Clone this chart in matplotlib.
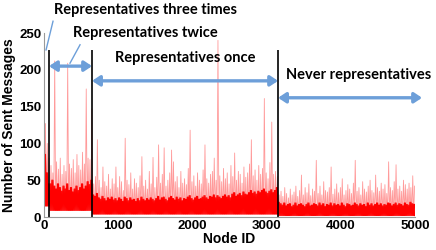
import numpy as np
import matplotlib
matplotlib.use("Agg")
import matplotlib.pyplot as plt

# node id bins of 25 nodes, 200 bins total (0..5000)
bin_size = 25

# region boundaries (node ids) where representative count changes
bounds = [67, 647, 3154]
region_floor = [15, 9, 4, 2]

# dense part of the signal (upper edge of the solid red band), per bin
core_0 = [85, 60, 45]
core_1 = [45, 50, 42, 38, 45, 40, 35, 42, 38, 45,
          36, 40, 34, 38, 42, 36, 40, 45, 38, 42,
          48, 44, 50]
core_2 = [30, 28, 32, 26, 24, 28, 25, 22, 26, 24,
          27, 23, 25, 22, 26, 24, 21, 27, 25, 22,
          26, 23, 24, 21, 25, 22, 27, 24, 22, 25,
          23, 26, 24, 22, 25, 28, 23, 26, 27, 24,
          22, 26, 28, 25, 23, 27, 24, 26, 22, 25,
          24, 27, 29, 25, 23, 26, 28, 24, 25, 27,
          29, 26, 24, 28, 27, 30, 26, 29, 27, 25,
          28, 30, 27, 29, 26, 31, 33, 28, 30, 32,
          29, 34, 31, 30, 33, 36, 32, 34, 31, 35,
          33, 36, 38, 34, 32, 35, 37, 33, 36, 40]
core_3 = [20, 18, 16, 19, 15, 17, 18, 14, 16, 19,
          15, 17, 18, 16, 14, 17, 19, 15, 16, 18,
          17, 15, 19, 16, 18, 14, 17, 16, 19, 15,
          18, 16, 17, 15, 19, 16, 14, 18, 17, 15,
          16, 19, 17, 15, 18, 16, 17, 14, 19, 16,
          18, 15, 17, 19, 16, 18, 15, 17, 16, 19,
          18, 15, 17, 19, 16, 18, 17, 15, 19, 17,
          16, 20, 18, 17]

# highest spike inside each bin
peak_0 = [127, 100, 80]
peak_1 = [70, 60, 212, 75, 65, 80, 58, 70, 62, 209,
          72, 66, 78, 60, 85, 70, 64, 88, 72, 174,
          80, 78, 147]
peak_2 = [45, 55, 105, 50, 40, 68, 48, 42, 58, 38,
          52, 45, 68, 40, 55, 48, 36, 107, 50, 44,
          60, 38, 52, 46, 40, 56, 82, 42, 50, 38,
          62, 45, 81, 40, 54, 98, 46, 58, 94, 42,
          50, 60, 91, 75, 48, 55, 40, 62, 46, 52,
          44, 66, 118, 48, 56, 42, 60, 50, 45, 64,
          98, 52, 46, 58, 62, 80, 50, 240, 56, 48,
          66, 52, 60, 45, 70, 55, 87, 50, 62, 58,
          46, 68, 54, 60, 72, 105, 56, 64, 50, 70,
          58, 66, 161, 60, 52, 74, 129, 58, 62, 55]
peak_3 = [30, 35, 28, 40, 32, 26, 38, 30, 34, 42,
          28, 36, 57, 30, 40, 33, 45, 29, 38, 35,
          77, 32, 42, 30, 48, 36, 34, 40, 68, 31,
          38, 45, 33, 40, 52, 30, 36, 44, 38, 32,
          46, 77, 35, 40, 30, 48, 38, 34, 42, 50,
          36, 33, 57, 40, 35, 46, 38, 44, 32, 75,
          40, 36, 48, 71, 38, 42, 35, 50, 44, 38,
          46, 40, 56, 42]

xticks = [0, 1000, 2000, 3000, 4000, 5000]
yticks = [0, 50, 100, 150, 200, 250]

core = np.array(core_0 + core_1 + core_2 + core_3)
peak = np.array(peak_0 + peak_1 + peak_2 + peak_3)
sizes = [len(core_0), len(core_1), len(core_2), len(core_3)]
floor = np.repeat(region_floor, sizes)
x = np.arange(len(core)) * bin_size + bin_size / 2

# zigzag each bin between its floor and its top, like a dense line plot
xz = np.column_stack([x - bin_size / 4, x + bin_size / 4]).ravel()
peak_z = np.column_stack([floor, peak]).ravel()
core_z = np.column_stack([floor, core]).ravel()
core_z2 = np.column_stack([core, floor]).ravel()

fig = plt.figure(figsize=(4.36, 2.5), dpi=100)
ax = fig.add_axes([0.101, 0.132, 0.851, 0.736])

ax.plot(xz, peak_z, color="#ff9a9a", lw=0.6)
ax.plot(xz, core_z, color="red", lw=0.9)
ax.plot(xz, core_z2, color="red", lw=0.9)

ax.vlines(bounds, 0, 227, color="black", lw=1.2, clip_on=False)

ax.set_xlim(0, 5000)
ax.set_ylim(0, 250)
ax.set_xticks(xticks)
ax.set_yticks(yticks)
tick_font = dict(family="Liberation Sans", weight="bold", size=9.5)
ax.set_xticklabels([str(t) for t in xticks], **tick_font)
ax.set_yticklabels([str(t) for t in yticks], **tick_font)
ax.tick_params(length=0, pad=2)
for s in ["top", "right"]:
    ax.spines[s].set_visible(False)
for s in ["left", "bottom"]:
    ax.spines[s].set_color("#999999")
    ax.spines[s].set_linewidth(0.8)

ax.set_xlabel("Node ID", family="Liberation Sans", weight="bold", size=10, labelpad=0)
ax.set_ylabel("Number of Sent Messages", family="Liberation Sans", weight="bold", size=10, labelpad=2)

# double arrows marking the regions
blue = "#6d9fd9"
arrows = [(bounds[0], bounds[1], 205), (bounds[1], bounds[2], 185), (bounds[2], 5094, 162)]
for x0, x1, yy in arrows:
    ax.annotate("", xy=(x1, yy), xytext=(x0, yy),
                arrowprops=dict(arrowstyle="<|-|>,head_length=0.45,head_width=0.3",
                                color=blue, lw=2.4, shrinkA=0, shrinkB=0),
                annotation_clip=False)

# callout lines
ax.plot([121, 27], [266, 227], color=blue, lw=1, clip_on=False)
ax.plot([485, 350], [234, 209], color=blue, lw=1, clip_on=False)

lab_font = dict(family="Lato", weight="bold", size=10.5, va="center", ha="left", clip_on=False)
ax.text(135, 281, "Representatives three times", **lab_font)
ax.text(391, 250, "Representatives twice", **lab_font)
ax.text(957, 216, "Representatives once", **lab_font)
ax.text(3261, 193, "Never representatives", **lab_font)

fig.savefig("out.png", dpi=100)
